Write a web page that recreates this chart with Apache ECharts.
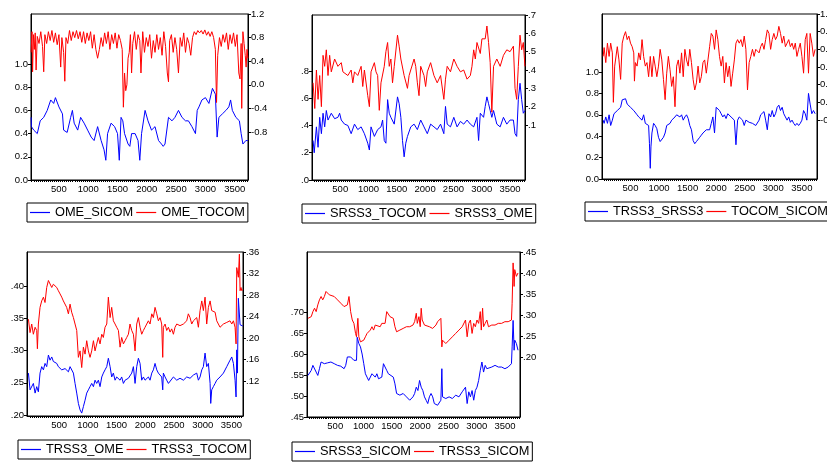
<!DOCTYPE html>
<html>
<head>
<meta charset="utf-8">
<script src="https://cdn.jsdelivr.net/npm/echarts@6/dist/echarts.min.js"></script>
<style>
  html, body { margin: 0; padding: 0; background: #fff; }
  #main { width: 827px; height: 462px; }
</style>
</head>
<body>
<div id="main"></div>
<script>
var omeSicom = [[25,0.54],[30,0.46],[70,0.43],[130,0.40],[180,0.51],[240,0.54],[300,0.6],[360,0.69],[410,0.66],[440,0.71],[500,0.63],[560,0.57],[580,0.43],[640,0.41],[700,0.54],[730,0.6],[760,0.49],[820,0.43],[870,0.54],[930,0.49],[990,0.43],[1050,0.37],[1100,0.34],[1160,0.46],[1220,0.34],[1270,0.26],[1300,0.17],[1330,0.4],[1390,0.49],[1450,0.46],[1500,0.4],[1530,0.17],[1560,0.54],[1590,0.51],[1620,0.4],[1680,0.31],[1710,0.29],[1740,0.4],[1800,0.4],[1850,0.34],[1880,0.17],[1910,0.4],[1970,0.6],[2020,0.51],[2080,0.43],[2140,0.46],[2200,0.34],[2250,0.31],[2280,0.29],[2310,0.31],[2370,0.54],[2430,0.51],[2480,0.54],[2540,0.6],[2600,0.54],[2660,0.51],[2710,0.51],[2770,0.46],[2830,0.4],[2860,0.6],[2890,0.63],[2940,0.69],[3000,0.71],[3060,0.66],[3120,0.79],[3170,0.74],[3200,0.37],[3230,0.54],[3290,0.57],[3350,0.6],[3400,0.63],[3430,0.69],[3460,0.6],[3520,0.54],[3580,0.51],[3610,0.4],[3640,0.31],[3690,0.34],[3725,0.34]];
var omeTocom = [[25,0.55],[40,0.9],[50,0.22],[65,0.85],[80,0.6],[95,0.88],[110,0.25],[130,0.82],[160,0.7],[190,0.9],[220,0.65],[240,0.22],[260,0.85],[290,0.7],[320,0.9],[350,0.75],[380,0.92],[410,0.72],[440,0.88],[470,0.68],[500,0.85],[530,0.3],[550,0.8],[580,0.55],[600,0.06],[620,0.8],[650,0.7],[680,0.92],[710,0.75],[740,0.9],[770,0.8],[800,0.92],[830,0.78],[860,0.9],[890,0.72],[920,0.9],[950,0.7],[980,0.88],[1010,0.75],[1040,0.9],[1070,0.62],[1100,0.85],[1130,0.6],[1160,0.45],[1190,0.6],[1220,0.8],[1250,0.65],[1280,0.88],[1310,0.7],[1340,0.9],[1370,0.6],[1400,0.85],[1430,0.7],[1460,0.88],[1490,0.62],[1520,0.85],[1550,0.75],[1580,0.6],[1600,-0.38],[1620,0.2],[1640,-0.1],[1660,0.0],[1680,0.45],[1700,0.55],[1720,0.85],[1740,0.2],[1760,0.7],[1790,0.9],[1820,0.6],[1850,0.85],[1880,0.75],[1900,0.2],[1930,0.9],[1960,0.55],[1990,0.8],[2020,0.65],[2050,0.85],[2080,0.45],[2110,0.75],[2140,0.55],[2170,0.85],[2200,0.6],[2230,0.8],[2260,0.5],[2290,0.9],[2320,0.65],[2350,0.2],[2370,0.05],[2390,0.75],[2420,0.85],[2450,0.55],[2480,0.8],[2510,0.6],[2540,0.2],[2570,0.8],[2600,0.65],[2630,0.88],[2660,0.55],[2690,0.8],[2720,0.7],[2750,0.5],[2780,0.8],[2810,0.9],[2840,0.85],[2870,0.92],[2900,0.88],[2930,0.92],[2960,0.86],[2990,0.93],[3020,0.84],[3050,0.9],[3080,0.82],[3110,0.9],[3140,0.8],[3170,0.6],[3190,-0.3],[3210,0.5],[3240,0.8],[3270,0.65],[3300,0.85],[3330,0.72],[3360,0.88],[3390,0.6],[3420,0.85],[3450,0.7],[3480,0.88],[3510,0.65],[3540,0.85],[3570,0.2],[3590,0.1],[3610,0.7],[3620,-0.4],[3640,0.9],[3660,0.7],[3680,0.5],[3695,0.3],[3710,0.6],[3725,0.45]];

var srss3Tocom = [[20,0.29],[40,0.20],[79,0.39],[108,0.24],[137,0.46],[167,0.34],[196,0.49],[225,0.39],[254,0.51],[284,0.44],[342,0.49],[401,0.45],[459,0.46],[489,0.49],[518,0.44],[576,0.41],[635,0.40],[693,0.34],[752,0.41],[810,0.37],[869,0.39],[927,0.34],[986,0.27],[1015,0.22],[1044,0.39],[1103,0.32],[1161,0.37],[1220,0.39],[1249,0.44],[1278,0.29],[1307,0.27],[1337,0.59],[1366,0.49],[1395,0.46],[1454,0.41],[1512,0.61],[1541,0.56],[1571,0.46],[1600,0.29],[1629,0.17],[1658,0.27],[1688,0.32],[1746,0.39],[1805,0.41],[1863,0.37],[1922,0.44],[1980,0.39],[2039,0.34],[2097,0.41],[2156,0.39],[2214,0.37],[2273,0.41],[2331,0.34],[2360,0.54],[2390,0.41],[2448,0.39],[2507,0.46],[2565,0.39],[2624,0.43],[2682,0.41],[2741,0.44],[2799,0.41],[2858,0.39],[2916,0.46],[2945,0.29],[2975,0.49],[3033,0.46],[3062,0.54],[3092,0.61],[3121,0.56],[3150,0.51],[3179,0.46],[3209,0.51],[3267,0.41],[3326,0.39],[3384,0.46],[3443,0.41],[3501,0.44],[3560,0.44],[3589,0.34],[3618,0.32],[3647,0.59],[3677,0.71],[3706,0.59],[3735,0.49],[3764,0.51]];
var srss3Ome = [[20,0.33],[50,0.19],[79,0.40],[108,0.24],[137,0.37],[167,0.20],[196,0.48],[225,0.42],[254,0.51],[284,0.37],[313,0.48],[342,0.39],[401,0.46],[459,0.42],[518,0.44],[547,0.39],[576,0.40],[635,0.37],[693,0.40],[722,0.33],[752,0.39],[810,0.37],[869,0.42],[898,0.31],[927,0.40],[986,0.26],[1015,0.20],[1044,0.39],[1103,0.44],[1132,0.39],[1161,0.37],[1190,0.18],[1220,0.33],[1278,0.42],[1307,0.50],[1337,0.55],[1366,0.42],[1395,0.46],[1424,0.33],[1454,0.42],[1512,0.59],[1541,0.53],[1571,0.46],[1629,0.37],[1688,0.30],[1717,0.37],[1746,0.40],[1805,0.46],[1834,0.42],[1863,0.33],[1892,0.26],[1922,0.42],[1980,0.37],[2009,0.31],[2039,0.39],[2097,0.44],[2156,0.37],[2214,0.33],[2273,0.37],[2331,0.24],[2360,0.35],[2390,0.42],[2448,0.39],[2507,0.46],[2565,0.42],[2624,0.39],[2682,0.40],[2741,0.35],[2799,0.37],[2828,0.42],[2858,0.51],[2887,0.46],[2916,0.55],[2975,0.49],[3004,0.57],[3062,0.57],[3092,0.64],[3121,0.55],[3150,0.44],[3179,0.17],[3209,0.42],[3267,0.46],[3326,0.42],[3384,0.48],[3443,0.51],[3501,0.50],[3560,0.53],[3589,0.30],[3618,0.24],[3647,0.42],[3677,0.59],[3706,0.51],[3735,0.55],[3764,0.42]];

var trss3Srss3 = [[21,0.55],[38,0.52],[67,0.58],[96,0.52],[125,0.60],[153,0.50],[182,0.55],[211,0.61],[269,0.64],[327,0.67],[355,0.74],[384,0.74],[413,0.75],[442,0.70],[500,0.67],[557,0.64],[615,0.60],[644,0.58],[673,0.58],[702,0.55],[730,0.60],[759,0.52],[788,0.53],[817,0.50],[832,0.33],[846,0.10],[858,0.30],[875,0.43],[904,0.52],[932,0.50],[961,0.47],[990,0.39],[1019,0.35],[1048,0.36],[1077,0.39],[1106,0.43],[1134,0.50],[1192,0.52],[1221,0.55],[1250,0.565],[1279,0.58],[1308,0.60],[1365,0.58],[1394,0.60],[1423,0.55],[1452,0.58],[1481,0.60],[1510,0.565],[1538,0.50],[1567,0.46],[1596,0.36],[1625,0.33],[1654,0.35],[1683,0.36],[1712,0.39],[1740,0.41],[1769,0.43],[1798,0.44],[1827,0.46],[1856,0.47],[1885,0.46],[1914,0.52],[1942,0.58],[1971,0.43],[2000,0.67],[2029,0.67],[2058,0.64],[2087,0.61],[2116,0.58],[2144,0.60],[2173,0.565],[2202,0.61],[2231,0.60],[2260,0.58],[2289,0.565],[2318,0.55],[2346,0.32],[2375,0.55],[2404,0.58],[2462,0.55],[2491,0.50],[2520,0.55],[2577,0.53],[2635,0.52],[2693,0.50],[2751,0.55],[2779,0.60],[2808,0.61],[2837,0.63],[2866,0.55],[2895,0.46],[2924,0.61],[2953,0.58],[2981,0.64],[3010,0.58],[3039,0.61],[3068,0.67],[3097,0.69],[3126,0.64],[3155,0.67],[3183,0.61],[3212,0.58],[3241,0.55],[3270,0.58],[3299,0.53],[3328,0.55],[3357,0.52],[3385,0.50],[3414,0.52],[3443,0.50],[3472,0.52],[3501,0.55],[3530,0.64],[3559,0.61],[3587,0.55],[3616,0.80],[3645,0.70],[3674,0.61],[3703,0.64],[3732,0.61]];
var tocomSicom = [[21,0.52],[38,0.62],[67,0.45],[96,0.67],[125,0.52],[153,0.67],[182,0.56],[200,0.00],[223,0.41],[269,0.63],[298,0.48],[327,0.26],[355,0.67],[384,0.75],[413,0.80],[442,0.71],[471,0.75],[500,0.67],[529,0.63],[557,0.56],[569,0.24],[586,0.45],[615,0.41],[644,0.56],[673,0.48],[702,0.71],[730,0.52],[759,0.41],[788,0.45],[817,0.29],[846,0.52],[875,0.29],[904,0.52],[932,0.41],[961,0.29],[990,0.41],[1019,0.60],[1048,0.48],[1077,0.26],[1106,0.03],[1134,0.33],[1163,0.52],[1192,0.37],[1221,0.18],[1250,0.29],[1279,-0.05],[1308,0.41],[1337,0.48],[1365,0.33],[1394,0.56],[1423,0.29],[1452,0.60],[1481,0.48],[1510,0.41],[1538,0.60],[1567,0.45],[1596,0.26],[1625,0.14],[1654,0.22],[1683,0.41],[1712,0.22],[1740,0.29],[1769,0.45],[1798,0.48],[1827,0.33],[1856,0.48],[1885,0.63],[1914,0.78],[1942,0.75],[1971,0.60],[2000,0.82],[2029,0.71],[2058,0.52],[2087,0.41],[2116,0.52],[2144,0.22],[2173,0.45],[2202,0.29],[2231,0.41],[2260,0.18],[2289,0.33],[2318,0.48],[2346,0.67],[2375,0.71],[2404,0.67],[2433,0.71],[2462,0.63],[2491,0.75],[2520,0.60],[2548,0.14],[2577,0.45],[2606,0.52],[2635,0.60],[2664,0.52],[2693,0.60],[2751,0.56],[2779,0.63],[2808,0.67],[2837,0.60],[2866,0.71],[2895,0.82],[2924,0.78],[2953,0.60],[2981,0.71],[3010,0.78],[3039,0.71],[3068,0.75],[3097,0.86],[3126,0.78],[3155,0.67],[3183,0.75],[3212,0.63],[3241,0.67],[3270,0.71],[3299,0.63],[3328,0.67],[3357,0.60],[3385,0.67],[3414,0.52],[3443,0.60],[3472,0.67],[3501,0.52],[3530,0.33],[3559,0.71],[3587,0.78],[3616,0.33],[3645,0.78],[3674,0.67],[3703,0.52],[3732,0.60]];

var trss3Ome = [[-35,0.265],[-7,0.239],[22,0.236],[51,0.249],[81,0.234],[109,0.244],[138,0.236],[167,0.265],[196,0.275],[226,0.27],[254,0.28],[283,0.275],[313,0.293],[341,0.285],[371,0.29],[399,0.283],[428,0.285],[458,0.28],[486,0.275],[516,0.272],[545,0.27],[573,0.267],[603,0.272],[631,0.27],[661,0.267],[690,0.275],[718,0.272],[748,0.265],[777,0.249],[806,0.234],[835,0.218],[864,0.208],[893,0.203],[922,0.213],[951,0.223],[980,0.234],[1009,0.239],[1038,0.244],[1067,0.249],[1097,0.244],[1125,0.254],[1154,0.249],[1183,0.254],[1212,0.244],[1242,0.259],[1270,0.265],[1299,0.27],[1329,0.275],[1357,0.288],[1387,0.275],[1415,0.259],[1444,0.265],[1474,0.254],[1502,0.259],[1532,0.257],[1561,0.254],[1589,0.259],[1619,0.249],[1648,0.254],[1677,0.252],[1706,0.257],[1734,0.254],[1764,0.265],[1793,0.275],[1822,0.249],[1851,0.275],[1880,0.288],[1909,0.28],[1938,0.254],[1967,0.259],[1996,0.254],[2025,0.257],[2054,0.259],[2083,0.254],[2113,0.265],[2141,0.27],[2170,0.28],[2200,0.27],[2228,0.265],[2258,0.267],[2286,0.259],[2304,0.239],[2315,0.265],[2345,0.259],[2373,0.254],[2403,0.249],[2432,0.252],[2490,0.259],[2548,0.254],[2605,0.257],[2664,0.254],[2722,0.259],[2780,0.257],[2838,0.262],[2896,0.265],[2925,0.254],[2954,0.259],[2984,0.27],[3012,0.275],[3041,0.296],[3070,0.275],[3099,0.28],[3129,0.249],[3140,0.218],[3157,0.239],[3186,0.244],[3216,0.249],[3244,0.254],[3302,0.259],[3361,0.265],[3419,0.275],[3476,0.285],[3506,0.29],[3535,0.28],[3564,0.254],[3581,0.228],[3593,0.301],[3605,0.265],[3621,0.381],[3651,0.34],[3680,0.342],[3697,0.338]];
var trss3Tocom = [[-35,0.235],[-7,0.21],[22,0.226],[51,0.207],[81,0.22],[109,0.214],[121,0.18],[138,0.226],[167,0.257],[196,0.269],[226,0.276],[254,0.266],[283,0.294],[313,0.307],[341,0.304],[371,0.294],[399,0.30],[428,0.297],[458,0.294],[486,0.288],[516,0.282],[545,0.276],[573,0.269],[603,0.266],[631,0.257],[661,0.245],[690,0.263],[718,0.248],[748,0.238],[777,0.226],[806,0.214],[835,0.164],[864,0.176],[893,0.145],[922,0.183],[951,0.17],[980,0.195],[1009,0.176],[1038,0.164],[1067,0.176],[1097,0.195],[1125,0.176],[1154,0.189],[1183,0.201],[1212,0.189],[1242,0.207],[1270,0.201],[1299,0.22],[1329,0.226],[1357,0.276],[1387,0.238],[1415,0.257],[1444,0.232],[1474,0.226],[1502,0.22],[1532,0.214],[1561,0.183],[1589,0.201],[1619,0.189],[1648,0.195],[1677,0.201],[1706,0.207],[1734,0.226],[1764,0.214],[1793,0.207],[1822,0.176],[1851,0.226],[1880,0.238],[1909,0.22],[1938,0.207],[1967,0.214],[1996,0.22],[2025,0.226],[2054,0.232],[2083,0.226],[2113,0.245],[2141,0.238],[2170,0.257],[2200,0.245],[2228,0.232],[2258,0.238],[2286,0.226],[2304,0.164],[2315,0.22],[2345,0.226],[2373,0.214],[2403,0.22],[2432,0.211],[2460,0.217],[2490,0.207],[2518,0.22],[2548,0.226],[2605,0.223],[2664,0.226],[2722,0.232],[2750,0.245],[2780,0.238],[2809,0.226],[2838,0.232],[2896,0.238],[2925,0.22],[2954,0.251],[2984,0.269],[3012,0.251],[3041,0.276],[3070,0.226],[3099,0.257],[3129,0.269],[3157,0.251],[3186,0.251],[3216,0.248],[3244,0.232],[3302,0.22],[3331,0.22],[3361,0.226],[3419,0.229],[3476,0.232],[3506,0.226],[3535,0.232],[3564,0.22],[3581,0.189],[3593,0.331],[3621,0.313],[3639,0.356],[3651,0.288],[3667,0.294],[3682,0.288],[3697,0.29]];

var srss3Sicom = [[18,0.549],[47,0.553],[76,0.561],[105,0.573],[134,0.569],[163,0.557],[192,0.549],[221,0.565],[250,0.581],[279,0.585],[308,0.577],[337,0.581],[366,0.579],[424,0.581],[482,0.577],[540,0.573],[598,0.571],[656,0.565],[685,0.573],[714,0.593],[743,0.589],[772,0.593],[801,0.589],[830,0.585],[859,0.581],[876,0.585],[888,0.64],[917,0.625],[946,0.617],[975,0.60],[1004,0.577],[1033,0.553],[1062,0.545],[1091,0.537],[1120,0.541],[1149,0.553],[1178,0.557],[1207,0.545],[1236,0.553],[1265,0.541],[1294,0.541],[1323,0.545],[1352,0.577],[1381,0.573],[1410,0.561],[1439,0.553],[1468,0.549],[1526,0.545],[1555,0.529],[1584,0.506],[1613,0.502],[1642,0.502],[1700,0.506],[1758,0.498],[1816,0.49],[1845,0.494],[1874,0.498],[1903,0.506],[1932,0.521],[1961,0.513],[1990,0.537],[2019,0.521],[2048,0.513],[2077,0.498],[2106,0.49],[2135,0.482],[2164,0.498],[2193,0.506],[2222,0.498],[2251,0.482],[2280,0.478],[2309,0.478],[2338,0.482],[2367,0.49],[2384,0.565],[2396,0.498],[2454,0.494],[2512,0.498],[2570,0.494],[2628,0.502],[2686,0.498],[2744,0.51],[2802,0.521],[2831,0.482],[2860,0.51],[2889,0.498],[2918,0.513],[2947,0.49],[2976,0.513],[3005,0.521],[3034,0.537],[3063,0.561],[3092,0.581],[3121,0.557],[3150,0.573],[3179,0.565],[3208,0.561],[3266,0.569],[3324,0.573],[3382,0.569],[3440,0.569],[3498,0.565],[3556,0.569],[3614,0.577],[3626,0.617],[3643,0.68],[3661,0.609],[3672,0.633],[3701,0.625],[3730,0.609]];
var trss3Sicom = [[18,0.292],[47,0.288],[76,0.296],[105,0.308],[134,0.316],[163,0.308],[192,0.324],[221,0.336],[250,0.344],[279,0.336],[308,0.344],[337,0.356],[366,0.352],[395,0.348],[424,0.348],[482,0.344],[540,0.336],[598,0.328],[656,0.32],[685,0.316],[714,0.324],[743,0.344],[772,0.308],[801,0.288],[830,0.28],[859,0.256],[876,0.248],[900,0.292],[917,0.248],[946,0.236],[975,0.232],[1004,0.24],[1033,0.248],[1062,0.256],[1120,0.264],[1149,0.272],[1178,0.264],[1207,0.276],[1236,0.28],[1294,0.272],[1323,0.28],[1352,0.276],[1381,0.28],[1410,0.308],[1439,0.304],[1468,0.296],[1526,0.292],[1555,0.272],[1584,0.26],[1642,0.264],[1700,0.268],[1758,0.272],[1816,0.272],[1874,0.276],[1903,0.284],[1932,0.304],[1950,0.28],[1979,0.296],[2002,0.272],[2019,0.316],[2037,0.288],[2060,0.292],[2077,0.276],[2106,0.272],[2164,0.272],[2222,0.268],[2280,0.276],[2309,0.284],[2338,0.284],[2367,0.292],[2384,0.224],[2396,0.24],[2454,0.232],[2512,0.24],[2570,0.248],[2628,0.256],[2686,0.264],[2744,0.272],[2802,0.288],[2831,0.248],[2860,0.28],[2889,0.288],[2918,0.256],[2947,0.28],[2976,0.272],[3005,0.288],[3034,0.28],[3063,0.308],[3081,0.264],[3104,0.316],[3121,0.272],[3150,0.28],[3179,0.288],[3208,0.272],[3266,0.276],[3324,0.276],[3382,0.28],[3440,0.28],[3498,0.284],[3556,0.284],[3614,0.288],[3626,0.328],[3643,0.424],[3661,0.368],[3672,0.408],[3701,0.392],[3730,0.40]];

// tick labels
var xLabels = [500, 1000, 1500, 2000, 2500, 3000, 3500];
var p1Left = [0, 0.2, 0.4, 0.6, 0.8, 1.0];
var p1Right = [-0.8, -0.4, 0, 0.4, 0.8, 1.2];
var p2Left = [0, 0.2, 0.4, 0.6, 0.8];
var p2Right = [0.1, 0.2, 0.3, 0.4, 0.5, 0.6, 0.7];
var p3Left = [0, 0.2, 0.4, 0.6, 0.8, 1.0];
var p3Right = [-0.2, 0, 0.2, 0.4, 0.6, 0.8, 1.0];
var p4Left = [0.20, 0.25, 0.30, 0.35, 0.40];
var p4Right = [0.12, 0.16, 0.20, 0.24, 0.28, 0.32, 0.36];
var p5Left = [0.45, 0.50, 0.55, 0.60, 0.65, 0.70];
var p5Right = [0.20, 0.25, 0.30, 0.35, 0.40, 0.45];

var xTicks = [];
for (var t = 0; t <= 3750; t += 35) xTicks.push(t);

var FONT = 'Liberation Sans, Arial, sans-serif';
var BLUE = '#0000ff', RED = '#ff0000';

function fmt(dec, dot) {
  return function (v) {
    var s = Number(v).toFixed(dec);
    if (dot) s = s.replace(/^0\./, '.').replace(/^-0\./, '-.');
    return s;
  };
}

var panels = [
  { grid: {left: 31, top: 14, width: 217, height: 166}, x: [23, 3727], L: {min: 0, max: 1.431, ticks: p1Left, dec: 1, dot: false}, R: {min: -1.614, max: 1.2, ticks: p1Right, dec: 1, dot: false}, blue: ['OME_SICOM', omeSicom], red: ['OME_TOCOM', omeTocom], leg: {left: 27, top: 203} },
  { grid: {left: 312, top: 15, width: 213, height: 165}, x: [1, 3765], L: {min: 0, max: 1.211, ticks: p2Left, dec: 1, dot: true}, R: {min: -0.2, max: 0.7, ticks: p2Right, dec: 1, dot: true}, blue: ['SRSS3_TOCOM', srss3Tocom], red: ['SRSS3_OME', srss3Ome], leg: {left: 302, top: 204} },
  { grid: {left: 602, top: 14, width: 215, height: 165}, x: [1, 3765], L: {min: 0, max: 1.542, ticks: p3Left, dec: 1, dot: false}, R: {min: -0.868, max: 1.0, ticks: p3Right, dec: 1, dot: false}, blue: ['TRSS3_SRSS3', trss3Srss3], red: ['TOCOM_SICOM', tocomSicom], leg: {left: 585, top: 202} },
  { grid: {left: 27, top: 252, width: 216, height: 164}, x: [-60, 3702], L: {min: 0.1985, max: 0.4527, ticks: p4Left, dec: 2, dot: true}, R: {min: 0.0549, max: 0.36, ticks: p4Right, dec: 2, dot: true}, blue: ['TRSS3_OME', trss3Ome], red: ['TRSS3_TOCOM', trss3Tocom], leg: {left: 18, top: 440} },
  { grid: {left: 307, top: 252, width: 213, height: 165}, x: [1, 3765], L: {min: 0.45, max: 0.843, ticks: p5Left, dec: 2, dot: true}, R: {min: 0.057, max: 0.45, ticks: p5Right, dec: 2, dot: true}, blue: ['SRSS3_SICOM', srss3Sicom], red: ['TRSS3_SICOM', trss3Sicom], leg: {left: 292, top: 442} }
];

var grids = [], xAxes = [], yAxes = [], series = [], legends = [];
var labelStyle = { color: '#000', fontSize: 9.5, fontFamily: FONT };

function yAxis(i, cfg, pos) {
  return {
    type: 'value', gridIndex: i, position: pos, min: cfg.min, max: cfg.max,
    splitLine: {show: false},
    axisLine: {show: true, onZero: false, lineStyle: {color: '#000', width: 1}},
    axisTick: {show: true, length: 3, inside: false, customValues: cfg.ticks, lineStyle: {color: '#000'}},
    axisLabel: Object.assign({margin: 3, customValues: cfg.ticks, formatter: fmt(cfg.dec, cfg.dot)}, labelStyle)
  };
}

panels.forEach(function (p, i) {
  grids.push(Object.assign({show: true, borderColor: '#000', borderWidth: 1, backgroundColor: 'transparent',
    containLabel: false, outerBoundsMode: 'none'}, p.grid));
  var ticks = xTicks.filter(function (v) { return v > p.x[0] && v < p.x[1]; });
  xAxes.push({
    type: 'value', gridIndex: i, min: p.x[0], max: p.x[1],
    splitLine: {show: false},
    axisLine: {show: true, onZero: false, lineStyle: {color: '#000'}},
    axisTick: {show: true, length: 2, customValues: ticks, lineStyle: {color: '#000'}},
    axisLabel: Object.assign({margin: 4, customValues: xLabels, formatter: function (v) { return String(v); }}, labelStyle)
  });
  yAxes.push(yAxis(i, p.L, 'left'));
  yAxes.push(yAxis(i, p.R, 'right'));
  series.push({
    name: p.blue[0], type: 'line', xAxisIndex: i, yAxisIndex: 2 * i,
    data: p.blue[1], symbol: 'none', color: BLUE, lineStyle: {width: 1, color: BLUE}
  });
  series.push({
    name: p.red[0], type: 'line', xAxisIndex: i, yAxisIndex: 2 * i + 1,
    data: p.red[1], symbol: 'none', color: RED, lineStyle: {width: 1, color: RED}
  });
  legends.push({
    data: [
      {name: p.blue[0], itemStyle: {color: BLUE}},
      {name: p.red[0], itemStyle: {color: RED}}
    ],
    left: p.leg.left, top: p.leg.top, width: 400,
    orient: 'horizontal', borderColor: '#000', borderWidth: 1, padding: [3, 3],
    itemGap: 3, itemWidth: 20, itemHeight: 1.2, icon: 'rect', selectedMode: false,
    textStyle: {color: '#000', fontSize: 12.8, fontFamily: FONT}
  });
});

var myChart = echarts.init(document.getElementById('main'));
myChart.setOption({
  animation: false,
  backgroundColor: '#fff',
  grid: grids,
  xAxis: xAxes,
  yAxis: yAxes,
  legend: legends,
  series: series
});
</script>
</body>
</html>
